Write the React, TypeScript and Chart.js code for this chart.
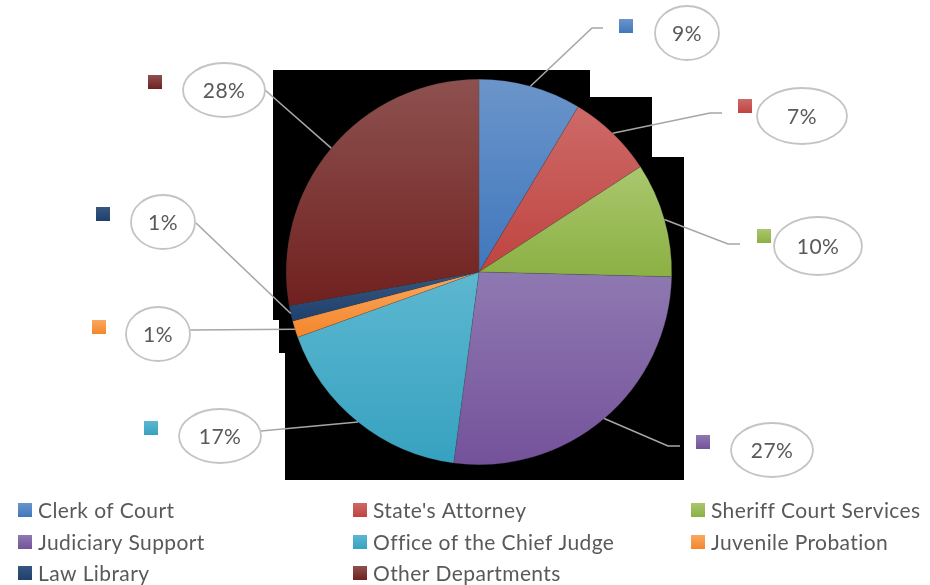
import React, { useEffect, useRef } from "react";
import { Chart, registerables } from "chart.js";

Chart.register(...registerables);

// ---- data ----
const categories = [
  "Clerk of Court",
  "State's Attorney",
  "Sheriff Court Services",
  "Judiciary Support",
  "Office of the Chief Judge",
  "Juvenile Probation",
  "Law Library",
  "Other Departments",
];
const shares = [8.6, 7.2, 9.6, 26.7, 17.4, 1.4, 1.3, 27.8];

// ---- styles ----
const topColors = ["#6b95ca", "#cd6a68", "#aac76e", "#8f79b2", "#5db7d0", "#f9a860", "#36577f", "#8d514f"];
const bottomColors = ["#4077bd", "#bf4440", "#8bb043", "#74529a", "#36a2c0", "#f4862b", "#1f406c", "#70211f"];

// callout layout (label boxes placed by hand, as in the original)
const calloutLayout = [
  { ex: 687, ey: 33, rx: 32, ry: 27, sx: 619, sy: 19, elbow: [592, 28], end: [603, 28] },
  { ex: 802, ey: 116, rx: 45, ry: 28, sx: 738, sy: 99, elbow: [710, 113], end: [722, 113] },
  { ex: 818, ey: 246, rx: 44, ry: 29, sx: 757, sy: 229, elbow: [728, 244], end: [740, 244] },
  { ex: 772, ey: 450, rx: 41, ry: 27, sx: 696, sy: 435, elbow: [668, 446], end: [680, 446] },
  { ex: 220, ey: 436, rx: 41, ry: 27, sx: 144, sy: 421, elbow: null, end: [261, 431] },
  { ex: 158, ey: 334, rx: 32, ry: 27, sx: 92, sy: 320, elbow: null, end: [190, 330] },
  { ex: 163, ey: 222, rx: 32, ry: 27, sx: 96, sy: 207, elbow: null, end: [196, 223] },
  { ex: 224, ey: 90, rx: 41, ry: 27, sx: 148, sy: 75, elbow: null, end: [265, 90] },
];

const legendCols = [20, 355, 693];
const legendRows = [510, 542, 573];
const FONT = "21px Lato, 'Open Sans', sans-serif";
const TEXT_COLOR = "#595959";

const total = shares.reduce((a, b) => a + b, 0);

function sliceFill(c: any) {
  const chart = c.chart;
  const i = c.dataIndex ?? 0;
  const ca = chart.chartArea;
  if (!ca) return bottomColors[i];
  const cx = (ca.left + ca.right) / 2;
  const cy = (ca.top + ca.bottom) / 2;
  const r = Math.min(ca.right - ca.left, ca.bottom - ca.top) / 2;
  const before = shares.slice(0, i).reduce((a, b) => a + b, 0);
  const f0 = before / total;
  const f1 = (before + shares[i]) / total;
  let yMin = cy;
  let yMax = cy;
  for (let k = 0; k <= 40; k++) {
    const phi = 2 * Math.PI * (f0 + ((f1 - f0) * k) / 40);
    const y = cy - r * Math.cos(phi);
    yMin = Math.min(yMin, y);
    yMax = Math.max(yMax, y);
  }
  void cx;
  const g = chart.ctx.createLinearGradient(0, yMin, 0, yMax);
  g.addColorStop(0, topColors[i]);
  g.addColorStop(1, bottomColors[i]);
  return g;
}

function square(ctx: CanvasRenderingContext2D, x: number, y: number, i: number) {
  const g = ctx.createLinearGradient(0, y, 0, y + 14);
  g.addColorStop(0, topColors[i]);
  g.addColorStop(1, bottomColors[i]);
  ctx.fillStyle = g;
  ctx.fillRect(x, y, 14, 14);
}

const backdropPlugin = {
  id: "backdrop",
  beforeDraw(chart: any) {
    const ctx = chart.ctx as CanvasRenderingContext2D;
    ctx.save();
    ctx.fillStyle = "#ffffff";
    ctx.fillRect(0, 0, chart.width, chart.height);
    // dark plot backdrop of the original export
    const poly = [
      [273, 70], [590, 70], [590, 97], [652, 97], [652, 157], [684, 157],
      [684, 480], [285, 480], [285, 353], [279, 353], [279, 320], [273, 320],
    ];
    ctx.beginPath();
    poly.forEach(([x, y], k) => (k ? ctx.lineTo(x, y) : ctx.moveTo(x, y)));
    ctx.closePath();
    ctx.fillStyle = "#000000";
    ctx.fill();
    ctx.restore();
  },
};

const calloutPlugin = {
  id: "callouts",
  afterDatasetsDraw(chart: any) {
    const ctx = chart.ctx as CanvasRenderingContext2D;
    const meta = chart.getDatasetMeta(0);
    ctx.save();
    (ctx as any).letterSpacing = "0.4px";
    meta.data.forEach((arc: any, i: number) => {
      const L = calloutLayout[i];
      const mid = (arc.startAngle + arc.endAngle) / 2;
      const px = arc.x + arc.outerRadius * Math.cos(mid);
      const py = arc.y + arc.outerRadius * Math.sin(mid);
      ctx.beginPath();
      ctx.moveTo(px, py);
      if (L.elbow) ctx.lineTo(L.elbow[0], L.elbow[1]);
      ctx.lineTo(L.end[0], L.end[1]);
      ctx.strokeStyle = "#a6a6a6";
      ctx.lineWidth = 1.6;
      ctx.stroke();

      ctx.beginPath();
      ctx.ellipse(L.ex, L.ey, L.rx, L.ry, 0, 0, Math.PI * 2);
      ctx.fillStyle = "#ffffff";
      ctx.fill();
      ctx.strokeStyle = "#c4c4c4";
      ctx.lineWidth = 1.8;
      ctx.stroke();

      square(ctx, L.sx, L.sy, i);

      ctx.fillStyle = TEXT_COLOR;
      ctx.font = FONT;
      ctx.textAlign = "center";
      ctx.textBaseline = "middle";
      ctx.fillText(Math.round((shares[i] / total) * 100) + "%", L.ex, L.ey + 1);
    });

    // legend grid
    categories.forEach((name, i) => {
      const x = legendCols[i % 3];
      const y = legendRows[Math.floor(i / 3)];
      square(ctx, x - 2, y - 7, i);
      ctx.fillStyle = TEXT_COLOR;
      ctx.font = FONT;
      ctx.textAlign = "left";
      ctx.textBaseline = "middle";
      ctx.fillText(name, x + 18, y + 1);
    });
    ctx.restore();
  },
};

export default function App() {
  const ref = useRef<HTMLCanvasElement>(null);
  useEffect(() => {
    const chart = new Chart(ref.current as HTMLCanvasElement, {
      type: "pie",
      data: {
        labels: categories,
        datasets: [
          {
            data: shares,
            backgroundColor: sliceFill as any,
            borderWidth: 0.5,
            borderColor: "rgba(70,70,70,0.45)",
          },
        ],
      },
      options: {
        responsive: false,
        animation: false,
        layout: { padding: { left: 286, right: 258, top: 79, bottom: 120 } },
        plugins: {
          legend: { display: false },
          tooltip: { enabled: false },
        },
      },
      plugins: [backdropPlugin, calloutPlugin],
    });
    return () => chart.destroy();
  }, []);
  return (
    <div style={{ position: "fixed", left: 0, top: 0, width: 930, height: 585, background: "#fff" }}>
      <canvas ref={ref} width={930} height={585} style={{ display: "block", width: 930, height: 585 }} />
    </div>
  );
}
